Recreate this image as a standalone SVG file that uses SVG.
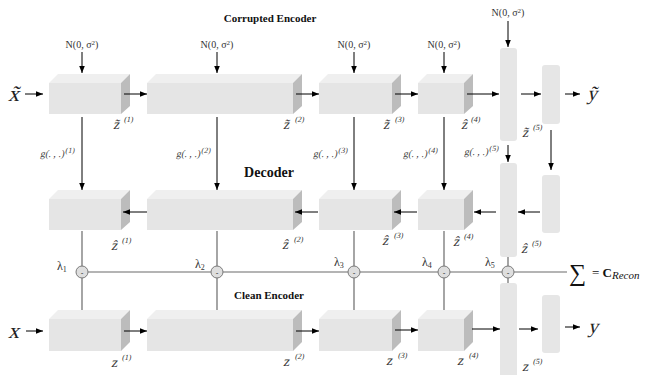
<svg xmlns="http://www.w3.org/2000/svg" width="648" height="375" viewBox="0 0 648 375">
<style>
.front{fill:#e5e5e5}
.top{fill:#efefef}
.side{fill:#bcbcbc}
.bar{fill:#e6e6e6}
.ar{stroke:#000;stroke-width:1;fill:none;marker-end:url(#ah)}
.gl{stroke:#6a6a6a;stroke-width:1.2;fill:none}
.cir{fill:#dedede;stroke:#7a7a7a;stroke-width:1}
.m{font-family:"Liberation Serif",serif;fill:#222}
.nz{font-family:"Liberation Serif",serif;font-size:10px;fill:#333;text-anchor:middle}
.g{font-family:"Liberation Serif",serif;font-size:10px;fill:#444}
.zl{font-family:"Liberation Serif",serif;font-size:14px;fill:#333}
.sup{font-size:8px}
.hd{font-family:"Liberation Serif",serif;font-weight:bold;fill:#111;text-anchor:middle}
.minus{font-family:"Liberation Sans",sans-serif;font-size:8px;text-anchor:middle;fill:#222}
.lam{font-family:"Liberation Serif",serif;font-size:12px;fill:#333}
.sub{font-size:8px}
</style>
<defs>
<marker id="ah" viewBox="0 0 10 8" refX="10" refY="4" markerWidth="7" markerHeight="5.6" markerUnits="userSpaceOnUse" orient="auto"><path d="M0,0 L10,4 L0,8 z" fill="#000"/></marker>
</defs>

<!-- corrupted encoder -->
<g id="enc1"><polygon class="top" points="49,83 58,74 130,74 121,83"/><polygon class="side" points="121,83 130,74 130,106 121,114"/><rect class="front" x="49" y="83" width="72" height="31"/></g>
<g id="enc2"><polygon class="top" points="147,83 156,74 302,74 293,83"/><polygon class="side" points="293,83 302,74 302,106 293,114"/><rect class="front" x="147" y="83" width="146" height="31"/></g>
<g id="enc3"><polygon class="top" points="319,83 328,74 401,74 392,83"/><polygon class="side" points="392,83 401,74 401,106 392,114"/><rect class="front" x="319" y="83" width="73" height="31"/></g>
<g id="enc4"><polygon class="top" points="418,83 427,74 473,74 464,83"/><polygon class="side" points="464,83 473,74 473,106 464,114"/><rect class="front" x="418" y="83" width="46" height="31"/></g>
<g id="enc5"><rect class="bar" x="500" y="48" width="17" height="93" rx="3"/></g>
<g id="enc6"><rect class="bar" x="542" y="65" width="18" height="59" rx="3"/></g>

<!-- decoder -->
<g id="dec1"><polygon class="top" points="49,199 58,190 130,190 121,199"/><polygon class="side" points="121,199 130,190 130,222 121,230"/><rect class="front" x="49" y="199" width="72" height="31"/></g>
<g id="dec2"><polygon class="top" points="147,199 156,190 302,190 293,199"/><polygon class="side" points="293,199 302,190 302,222 293,230"/><rect class="front" x="147" y="199" width="146" height="31"/></g>
<g id="dec3"><polygon class="top" points="319,199 328,190 401,190 392,199"/><polygon class="side" points="392,199 401,190 401,222 392,230"/><rect class="front" x="319" y="199" width="73" height="31"/></g>
<g id="dec4"><polygon class="top" points="418,199 427,190 473,190 464,199"/><polygon class="side" points="464,199 473,190 473,222 464,230"/><rect class="front" x="418" y="199" width="46" height="31"/></g>
<g id="dec5"><rect class="bar" x="500" y="163" width="17" height="94" rx="3"/></g>
<g id="dec6"><rect class="bar" x="542" y="175" width="18" height="58" rx="3"/></g>

<!-- clean encoder -->
<g id="cln1"><polygon class="top" points="49,319 58,310 130,310 121,319"/><polygon class="side" points="121,319 130,310 130,342 121,351"/><rect class="front" x="49" y="319" width="72" height="32"/></g>
<g id="cln2"><polygon class="top" points="147,319 156,310 302,310 293,319"/><polygon class="side" points="293,319 302,310 302,342 293,351"/><rect class="front" x="147" y="319" width="146" height="32"/></g>
<g id="cln3"><polygon class="top" points="319,319 328,310 401,310 392,319"/><polygon class="side" points="392,319 401,310 401,342 392,351"/><rect class="front" x="319" y="319" width="73" height="32"/></g>
<g id="cln4"><polygon class="top" points="418,319 427,310 473,310 464,319"/><polygon class="side" points="464,319 473,310 473,342 464,351"/><rect class="front" x="418" y="319" width="46" height="32"/></g>
<g id="cln5"><rect class="bar" x="500" y="283" width="17" height="100" rx="3"/></g>
<g id="cln6"><rect class="bar" x="542" y="295" width="18" height="58" rx="3"/></g>

<g id="connectors">
<line class="ar" x1="25" y1="94" x2="43" y2="94"/>
<line class="ar" x1="124" y1="94" x2="147" y2="94"/>
<line class="ar" x1="296" y1="94" x2="319" y2="94"/>
<line class="ar" x1="395" y1="94" x2="418" y2="94"/>
<line class="ar" x1="467" y1="94" x2="499" y2="94"/>
<line class="ar" x1="521" y1="94" x2="541" y2="94"/>
<line class="ar" x1="565" y1="94" x2="580" y2="94"/>
<line class="ar" x1="82" y1="52" x2="82" y2="73"/>
<line class="ar" x1="217" y1="52" x2="217" y2="73"/>
<line class="ar" x1="354" y1="52" x2="354" y2="73"/>
<line class="ar" x1="444" y1="52" x2="444" y2="73"/>
<line class="ar" x1="508" y1="21" x2="508" y2="47"/>
<line class="ar" x1="82" y1="117" x2="82" y2="190"/>
<line class="ar" x1="217" y1="117" x2="217" y2="190"/>
<line class="ar" x1="354" y1="117" x2="354" y2="190"/>
<line class="ar" x1="444" y1="117" x2="444" y2="190"/>
<line class="ar" x1="508" y1="145" x2="508" y2="162"/>
<line class="ar" x1="551" y1="130" x2="551" y2="170"/>
<line class="ar" x1="147" y1="212" x2="123" y2="212"/>
<line class="ar" x1="318" y1="212" x2="295" y2="212"/>
<line class="ar" x1="417" y1="212" x2="394" y2="212"/>
<line class="ar" x1="496" y1="212" x2="474" y2="212"/>
<line class="ar" x1="540" y1="212" x2="518" y2="212"/>
<line class="ar" x1="26" y1="331" x2="43" y2="331"/>
<line class="ar" x1="124" y1="331" x2="147" y2="331"/>
<line class="ar" x1="296" y1="331" x2="319" y2="331"/>
<line class="ar" x1="395" y1="330" x2="418" y2="330"/>
<line class="ar" x1="472" y1="329" x2="500" y2="329"/>
<line class="ar" x1="519" y1="329" x2="538" y2="329"/>
<line class="ar" x1="565" y1="327" x2="580" y2="327"/>
<line class="gl" x1="82" y1="272" x2="567" y2="272"/>
<line class="gl" x1="82" y1="231" x2="82" y2="310"/>
<line class="gl" x1="217" y1="231" x2="217" y2="310"/>
<line class="gl" x1="354" y1="231" x2="354" y2="310"/>
<line class="gl" x1="444" y1="231" x2="444" y2="310"/>
<line class="gl" x1="508" y1="257" x2="508" y2="283"/>
</g>

<g id="sub1"><circle class="cir" cx="82" cy="272" r="6"/><text class="minus" x="82" y="275">-</text></g>
<g id="sub2"><circle class="cir" cx="217" cy="272" r="6"/><text class="minus" x="217" y="275">-</text></g>
<g id="sub3"><circle class="cir" cx="354" cy="272" r="6"/><text class="minus" x="354" y="275">-</text></g>
<g id="sub4"><circle class="cir" cx="444" cy="272" r="6"/><text class="minus" x="444" y="275">-</text></g>
<g id="sub5"><circle class="cir" cx="508" cy="272" r="6"/><text class="minus" x="508" y="275">-</text></g>

<text class="hd" x="270" y="22" font-size="11">Corrupted Encoder</text>
<text class="hd" x="269" y="177" font-size="14">Decoder</text>
<text class="hd" x="269" y="299" font-size="11">Clean Encoder</text>

<text class="m" transform="translate(8,101) skewX(-14)" font-size="22">x̃</text>
<text class="m" transform="translate(8,338) skewX(-14)" font-size="22">x</text>
<text class="m" transform="translate(587,100) skewX(-14)" font-size="20">ỹ</text>
<text class="m" transform="translate(588,333) skewX(-14)" font-size="20">y</text>

<text class="nz" x="82" y="48">N(0, σ<tspan font-size="7" dy="-3">2</tspan><tspan dy="3">)</tspan></text>
<text class="nz" x="217" y="48">N(0, σ<tspan font-size="7" dy="-3">2</tspan><tspan dy="3">)</tspan></text>
<text class="nz" x="354" y="48">N(0, σ<tspan font-size="7" dy="-3">2</tspan><tspan dy="3">)</tspan></text>
<text class="nz" x="444" y="48">N(0, σ<tspan font-size="7" dy="-3">2</tspan><tspan dy="3">)</tspan></text>
<text class="nz" x="508" y="16">N(0, σ<tspan font-size="7" dy="-3">2</tspan><tspan dy="3">)</tspan></text>

<text class="g" transform="translate(40,157) skewX(-12)">g(. , .)<tspan class="sup" dy="-4">(1)</tspan></text>
<text class="g" transform="translate(176,157) skewX(-12)">g(. , .)<tspan class="sup" dy="-4">(2)</tspan></text>
<text class="g" transform="translate(313,157) skewX(-12)">g(. , .)<tspan class="sup" dy="-4">(3)</tspan></text>
<text class="g" transform="translate(403,157) skewX(-12)">g(. , .)<tspan class="sup" dy="-4">(4)</tspan></text>
<text class="g" transform="translate(464,155) skewX(-12)">g(. , .)<tspan class="sup" dy="-4">(5)</tspan></text>

<text class="zl" transform="translate(113,129) skewX(-12)">z̃<tspan class="sup" dx="3" dy="-7">(1)</tspan></text>
<text class="zl" transform="translate(283,129) skewX(-12)">z̃<tspan class="sup" dx="4" dy="-7">(2)</tspan></text>
<text class="zl" transform="translate(383,129) skewX(-12)">z̃<tspan class="sup" dx="4" dy="-7">(3)</tspan></text>
<text class="zl" transform="translate(461,129) skewX(-12)">ẑ<tspan class="sup" dx="2" dy="-7">(4)</tspan></text>
<text class="zl" transform="translate(522,137) skewX(-12)">z̃<tspan class="sup" dx="3" dy="-7">(5)</tspan></text>

<text class="zl" transform="translate(111,250) skewX(-12)">ẑ<tspan class="sup" dx="3" dy="-7">(1)</tspan></text>
<text class="zl" transform="translate(282,249) skewX(-12)">ẑ<tspan class="sup" dx="4" dy="-7">(2)</tspan></text>
<text class="zl" transform="translate(382,245) skewX(-12)">ẑ<tspan class="sup" dx="4" dy="-7">(3)</tspan></text>
<text class="zl" transform="translate(453,246) skewX(-12)">ẑ<tspan class="sup" dx="3" dy="-7">(4)</tspan></text>
<text class="zl" transform="translate(521,253) skewX(-12)">ẑ<tspan class="sup" dx="3" dy="-7">(5)</tspan></text>

<text class="zl" transform="translate(111,367) skewX(-12)">z<tspan class="sup" dx="3" dy="-7">(1)</tspan></text>
<text class="zl" transform="translate(283,366) skewX(-12)">z<tspan class="sup" dx="4" dy="-7">(2)</tspan></text>
<text class="zl" transform="translate(386,365) skewX(-12)">z<tspan class="sup" dx="4" dy="-7">(3)</tspan></text>
<text class="zl" transform="translate(457,365) skewX(-12)">z<tspan class="sup" dx="4" dy="-7">(4)</tspan></text>
<text class="zl" transform="translate(522,371) skewX(-12)">z<tspan class="sup" dx="3" dy="-7">(5)</tspan></text>

<text class="lam" x="57" y="270">λ<tspan class="sub" dy="2">1</tspan></text>
<text class="lam" x="195" y="268">λ<tspan class="sub" dy="2">2</tspan></text>
<text class="lam" x="334" y="266">λ<tspan class="sub" dy="2">3</tspan></text>
<text class="lam" x="422" y="266">λ<tspan class="sub" dy="2">4</tspan></text>
<text class="lam" x="485" y="266">λ<tspan class="sub" dy="2">5</tspan></text>

<text x="569" y="281" font-family="Liberation Serif,serif" font-size="24" fill="#111">∑</text>
<text x="592" y="277" font-family="Liberation Serif,serif" font-size="13" fill="#111">= <tspan font-weight="bold">C</tspan><tspan font-style="italic" font-size="11" dy="2">Recon</tspan></text>
</svg>
